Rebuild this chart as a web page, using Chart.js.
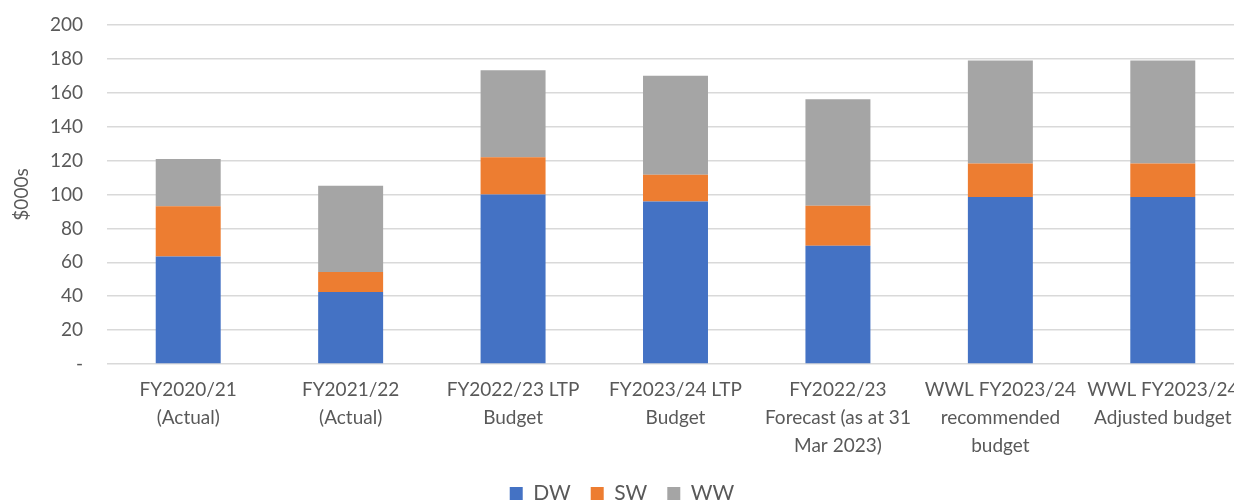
<!DOCTYPE html>
<html>
<head>
<meta charset="utf-8">
<script src="https://cdn.jsdelivr.net/npm/chart.js@4"></script>
<style>
  html, body { margin: 0; padding: 0; background: #fff; overflow: hidden; }
  #wrap { width: 1250px; height: 503px; }
</style>
</head>
<body>
<div id="wrap"><canvas id="budgetChart" width="1250" height="503"></canvas></div>
<script>
const categories = [
  ['FY2020/21', '(Actual)'],
  ['FY2021/22', '(Actual)'],
  ['FY2022/23 LTP', 'Budget'],
  ['FY2023/24 LTP', 'Budget'],
  ['FY2022/23', 'Forecast (as at 31', 'Mar 2023)'],
  ['WWL FY2023/24', 'recommended', 'budget'],
  ['WWL FY2023/24', 'Adjusted budget']
];
const dwValues = [63.4, 42.5, 100.0, 95.8, 69.7, 98.5, 98.5];
const swValues = [29.6, 11.8, 22.0, 15.8, 23.7, 19.8, 19.8];
const wwValues = [28.0, 50.9, 51.3, 58.4, 62.8, 60.8, 60.8];
const yTicks = [0, 20, 40, 60, 80, 100, 120, 140, 160, 180, 200];

const fontFamily = 'Lato, "Open Sans", sans-serif';
const textColor = '#595959';

const ctx = document.getElementById('budgetChart').getContext('2d');
new Chart(ctx, {
  type: 'bar',
  data: {
    labels: categories,
    datasets: [
      { label: 'DW', data: dwValues, backgroundColor: '#4472C4' },
      { label: 'SW', data: swValues, backgroundColor: '#ED7D31' },
      { label: 'WW', data: wwValues, backgroundColor: '#A5A5A5' }
    ]
  },
  options: {
    responsive: false,
    animation: false,
    layout: { padding: { top: 25, right: 6, bottom: -11, left: 0 } },
    datasets: {
      bar: { barPercentage: 0.4, categoryPercentage: 1.0 }
    },
    plugins: {
      tooltip: { enabled: false },
      legend: {
        position: 'bottom',
        labels: {
          color: textColor,
          font: { family: fontFamily, size: 21 },
          boxWidth: 13,
          boxHeight: 13,
          padding: 20
        }
      }
    },
    scales: {
      x: {
        stacked: true,
        grid: { display: false },
        border: { display: false },
        ticks: {
          color: textColor,
          font: { family: fontFamily, size: 19, lineHeight: 1.47 },
          maxRotation: 0,
          autoSkip: false,
          padding: 4
        },
        afterFit: scale => { scale.height = 99; }
      },
      y: {
        stacked: true,
        min: 0,
        max: 200,
        afterBuildTicks: scale => { scale.ticks = yTicks.map(v => ({ value: v })); },
        grid: { color: '#d9d9d9', lineWidth: 1.5, drawTicks: false },
        border: { display: false },
        ticks: {
          color: textColor,
          font: { family: fontFamily, size: 19 },
          padding: 24,
          callback: value => value === 0 ? '-' : value
        },
        title: {
          display: true,
          text: '$000s',
          color: textColor,
          font: { family: fontFamily, size: 19 },
          padding: { top: 10, bottom: 0 }
        },
        afterFit: scale => {
          scale.width = 107;
          scale.paddingTop = 0;
          scale.paddingBottom = 0;
        }
      }
    }
  }
});
</script>
</body>
</html>
